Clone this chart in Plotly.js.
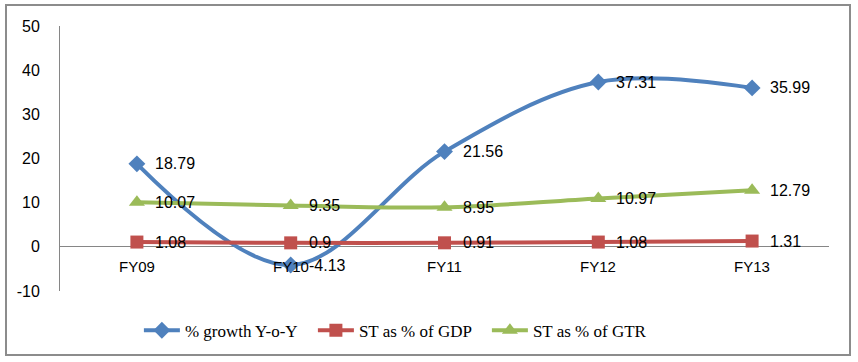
<!DOCTYPE html>
<html>
<head>
<meta charset="utf-8">
<script src="https://cdn.plot.ly/plotly-3.0.1.min.js"></script>
<style>
  html, body { margin: 0; padding: 0; background: #fff; }
  #wrap { position: relative; width: 858px; height: 362px; }
  #chart { width: 858px; height: 362px; }
  #frame { position: absolute; left: 5px; top: 4px; width: 846px; height: 352px;
           border: 2px solid #8c8c8c; pointer-events: none; box-sizing: border-box; }
</style>
</head>
<body>
<div id="wrap"><div id="chart"></div><div id="frame"></div></div>
<script>
const categories = ["FY09", "FY10", "FY11", "FY12", "FY13"];
const growthYoY = [18.79, -4.13, 21.56, 37.31, 35.99];
const stGDP = [1.08, 0.9, 0.91, 1.08, 1.31];
const stGTR = [10.07, 9.35, 8.95, 10.97, 12.79];
const seriesNames = ["% growth Y-o-Y", "ST as % of GDP", "ST as % of GTR"];
const yTicks = [-10, 0, 10, 20, 30, 40, 50];

const labelFont = { family: "Liberation Sans, Arial, sans-serif", size: 16, color: "#000" };
const catFont = { family: "Liberation Sans, Arial, sans-serif", size: 15, color: "#000" };

function mk(y, name, color, symbol, size) {
  return {
    x: categories, y: y, name: name, type: "scatter", mode: "lines+markers",
    line: { color: color, width: 4, shape: "spline", smoothing: 1 },
    marker: { color: color, symbol: symbol, size: size },
    cliponaxis: false
  };
}

const traces = [
  mk(growthYoY, seriesNames[0], "#4F81BD", "diamond", 13),
  mk(stGDP, seriesNames[1], "#C0504D", "square", 13),
  mk(stGTR, seriesNames[2], "#9BBB59", "triangle-up", 14)
];

const catAnnotations = categories.map(c => ({
  x: c, y: 0, xref: "x", yref: "y", text: c, showarrow: false,
  yanchor: "top", yshift: -9, font: catFont
}));

const valueAnnotations = [];
[growthYoY, stGDP, stGTR].forEach(arr => {
  arr.forEach((v, i) => {
    valueAnnotations.push({
      x: categories[i], y: v, xref: "x", yref: "y", text: String(v), showarrow: false,
      xanchor: "left", yanchor: "middle", xshift: 16, font: labelFont
    });
  });
});

const layout = {
  width: 858, height: 362,
  margin: { l: 60, r: 29, t: 26, b: 71 },
  paper_bgcolor: "#fff", plot_bgcolor: "#fff",
  showlegend: true,
  legend: { orientation: "h", x: 0.442, xanchor: "center", y: -0.15, yanchor: "middle",
            font: { family: "Liberation Serif, Times New Roman, serif", size: 17, color: "#000" },
            itemwidth: 36, traceorder: "normal", entrywidth: 123, entrywidthmode: "pixels" },
  xaxis: { type: "category", range: [-0.5, 4.5], showticklabels: false, ticks: "",
           showgrid: false, zeroline: false, showline: false, fixedrange: true },
  yaxis: { range: [-10, 50], tickvals: yTicks, ticktext: yTicks.map(String),
           showgrid: false, zeroline: true, zerolinecolor: "#868686", zerolinewidth: 1,
           showline: true, linecolor: "#868686", linewidth: 1, ticks: "",
           ticklabelstandoff: 16,
           tickfont: labelFont },
  annotations: catAnnotations.concat(valueAnnotations)
};

Plotly.newPlot("chart", traces, layout, { displayModeBar: false, staticPlot: true });
</script>
</body>
</html>
